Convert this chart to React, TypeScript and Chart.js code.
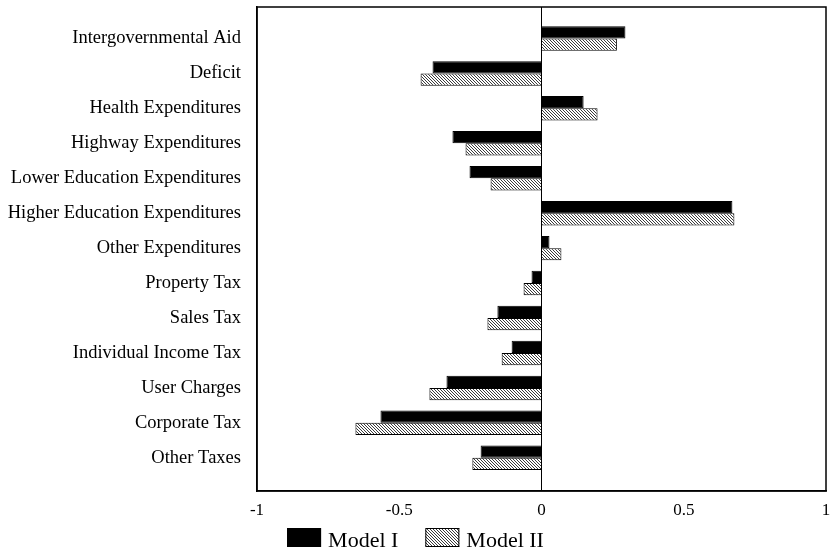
import React, { useEffect, useRef } from "react";
import { Chart, registerables } from "chart.js";

Chart.register(...registerables);

const categories = [
  "Intergovernmental Aid",
  "Deficit",
  "Health Expenditures",
  "Highway Expenditures",
  "Lower Education Expenditures",
  "Higher Education Expenditures",
  "Other Expenditures",
  "Property Tax",
  "Sales Tax",
  "Individual Income Tax",
  "User Charges",
  "Corporate Tax",
  "Other Taxes",
];

const modelI = [0.295, -0.383, 0.148, -0.313, -0.253, 0.671, 0.028, -0.035, -0.155, -0.105, -0.334, -0.566, -0.214];
const modelII = [0.265, -0.425, 0.197, -0.267, -0.179, 0.678, 0.07, -0.063, -0.19, -0.14, -0.394, -0.654, -0.243];

const seriesNames = ["Model I", "Model II"];
const xTicks = [-1, -0.5, 0, 0.5, 1];

const SERIF = "'Liberation Serif', 'Times New Roman', serif";

function makeHatch(): CanvasPattern | string {
  const c = document.createElement("canvas");
  c.width = 3;
  c.height = 3;
  const g = c.getContext("2d");
  if (!g) return "#999";
  g.fillStyle = "#ffffff";
  g.fillRect(0, 0, 3, 3);
  g.fillStyle = "#3a3a3a";
  for (let i = 0; i < 3; i++) g.fillRect(i, i, 1, 1);
  const p = g.createPattern(c, "repeat");
  return p || "#999";
}

const framePlugin = {
  id: "frame",
  afterDraw(chart: any) {
    const { ctx, chartArea } = chart;
    ctx.save();
    ctx.strokeStyle = "#000";
    ctx.lineWidth = 1.5;
    ctx.strokeRect(chartArea.left, chartArea.top, chartArea.right - chartArea.left, chartArea.bottom - chartArea.top);
    ctx.restore();
  },
};

const legendPlugin = {
  id: "customLegend",
  afterDraw(chart: any) {
    const { ctx, chartArea, width } = chart;
    const boxW = 34;
    const boxH = 19;
    const gapText = 7;
    const gapItem = 27;
    ctx.save();
    ctx.font = "22px " + SERIF;
    const items = chart.data.datasets.map((d: any) => ({
      label: d.label,
      fill: d.backgroundColor,
      w: ctx.measureText(d.label).width,
    }));
    let total = 0;
    items.forEach((it: any, i: number) => {
      total += boxW + gapText + it.w + (i < items.length - 1 ? gapItem : 0);
    });
    let x = width / 2 - total / 2;
    const top = chartArea.bottom + 37;
    items.forEach((it: any) => {
      ctx.fillStyle = it.fill;
      ctx.fillRect(x, top, boxW, boxH);
      ctx.strokeStyle = "#000";
      ctx.lineWidth = 1;
      ctx.strokeRect(x + 0.5, top + 0.5, boxW - 1, boxH - 1);
      ctx.fillStyle = "#000";
      ctx.textBaseline = "alphabetic";
      ctx.textAlign = "left";
      ctx.fillText(it.label, x + boxW + gapText, top + boxH);
      x += boxW + gapText + it.w + gapItem;
    });
    ctx.restore();
  },
};

export default function App() {
  const ref = useRef<HTMLCanvasElement | null>(null);
  useEffect(() => {
    if (!ref.current) return;
    const hatch = makeHatch();
    const chart = new Chart(ref.current, {
      type: "bar",
      data: {
        datasets: [
          {
            label: seriesNames[0],
            data: modelI.map((v, i) => ({ x: v, y: i })),
            backgroundColor: "#000000",
            borderColor: "#000000",
            borderWidth: 1,
            categoryPercentage: 0.7,
            barPercentage: 1.0,
          },
          {
            label: seriesNames[1],
            data: modelII.map((v, i) => ({ x: v, y: i })),
            backgroundColor: hatch as any,
            borderColor: "#000000",
            borderWidth: 1,
            categoryPercentage: 0.7,
            barPercentage: 1.0,
          },
        ] as any,
      },
      options: {
        indexAxis: "y",
        animation: false,
        responsive: true,
        maintainAspectRatio: false,
        layout: { padding: { left: 0, right: 5, top: 7, bottom: 35 } },
        scales: {
          x: {
            type: "linear",
            min: -1,
            max: 1,
            afterBuildTicks: (s: any) => {
              s.ticks = xTicks.map((v) => ({ value: v }));
            },
            afterFit: (s: any) => {
              s.height = 30;
              s.paddingLeft = 0;
              s.paddingRight = 0;
            },
            ticks: {
              color: "#000",
              font: { family: SERIF, size: 17 },
              padding: 9,
              callback: (v: any) => String(v),
            },
            grid: {
              drawTicks: false,
              color: (c: any) => (c.tick && c.tick.value === 0 ? "#000" : "rgba(0,0,0,0)"),
              lineWidth: 1,
            },
            border: { display: true, color: "#000", width: 1.5 },
          },
          y: {
            type: "linear",
            reverse: true,
            offset: false,
            min: -0.9,
            max: 12.95,
            afterBuildTicks: (s: any) => {
              s.ticks = categories.map((_, i) => ({ value: i }));
            },
            afterFit: (s: any) => {
              s.width = 257;
              s.paddingTop = 0;
              s.paddingBottom = 0;
            },
            ticks: {
              color: "#000",
              autoSkip: false,
              font: { family: SERIF, size: 18.5 },
              padding: 16,
              callback: (v: any) => {
                const i = Math.round(Number(v));
                return Math.abs(Number(v) - i) < 1e-6 && categories[i] ? categories[i] : "";
              },
            },
            grid: { display: false, drawTicks: false, offset: false },
            border: { display: true, color: "#000", width: 1.5 },
          },
        },
        plugins: {
          legend: { display: false },
          tooltip: { enabled: false },
        },
      } as any,
      plugins: [framePlugin, legendPlugin],
    });
    return () => chart.destroy();
  }, []);
  return (
    <div style={{ position: "fixed", left: 0, top: 0, width: 831, height: 556, background: "#fff" }}>
      <canvas ref={ref} />
    </div>
  );
}
